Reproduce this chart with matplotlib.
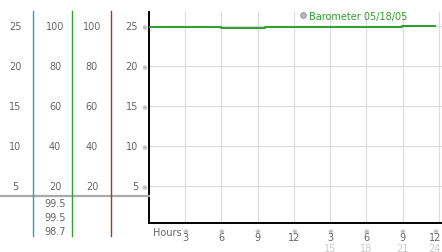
import matplotlib.pyplot as plt
from matplotlib.lines import Line2D
from matplotlib.transforms import blended_transform_factory, offset_copy

# data
hours = [0, 6.0, 9.6, 20.9, 23.7]
barometer = [99.5, 98.9, 99.5, 99.9, 99.9]
scale25 = [25, 20, 15, 10, 5]
scale100 = [100, 80, 60, 40, 20]
summary = ['99.5', '99.5', '98.7']
xticks = [3, 6, 9, 12, 15, 18, 21, 24]
xlabels_top = ['3', '6', '9', '12', '3', '6', '9', '12']
xlabels_bot = ['', '', '', '', '15', '18', '21', '24']
legend_label = 'Barometer 05/18/05'

W, H = 442, 253
fig = plt.figure(figsize=(W / 100, H / 100), dpi=100)
plt.rcParams['font.family'] = 'DejaVu Sans'
txt = '#666666'
fs = 7

ax_rect = [149 / W, 29 / H, 293 / W, 211 / H]
ax = fig.add_axes(ax_rect)
left = fig.add_axes([0, ax_rect[1], 149 / W, ax_rect[3]], sharey=ax)

ylim = (0.4, 26.75)
ax.set_xlim(0, 24.25)
ax.set_ylim(*ylim)

# main chart
ax.plot(hours, [b / 4 for b in barometer], drawstyle='steps-post', color='#2e9e2e', lw=1.4, zorder=3)
ax.set_xticks(xticks)
ax.set_yticks(scale25)
ax.grid(True, color='#dddddd', lw=0.9)
ax.set_axisbelow(True)
for s in ['top', 'right']:
    ax.spines[s].set_visible(False)
ax.spines['left'].set_linewidth(1.4)
ax.spines['bottom'].set_linewidth(1.4)
ax.tick_params(length=0)
ax.set_yticklabels(['\u203b'] * len(scale25), fontsize=5, color='#888888')
ax.tick_params(axis='y', pad=1)
ax.set_xticklabels([])
tr = blended_transform_factory(ax.transData, ax.transAxes)
for x, t, b in zip(xticks, xlabels_top, xlabels_bot):
    # keep the last column inside the figure edge
    ttr = offset_copy(tr, fig=fig, x=-3 if x == xticks[-1] else 0, units='points')
    ax.text(x, -0.022, '\u203b', transform=ttr, ha='center', va='top', fontsize=5, color='#888888')
    ax.text(x, -0.045, t, transform=ttr, ha='center', va='top', fontsize=fs, color=txt)
    ax.text(x, -0.097, b, transform=ttr, ha='center', va='top', fontsize=fs, color='#cccccc')
ax.text(0.015, -0.018, 'Hours', transform=ax.transAxes, ha='left', va='top', fontsize=fs, color=txt)

handle = Line2D([], [], marker='o', ls='none', markersize=4, markerfacecolor='#bbbbbb',
                markeredgecolor='#888888', markeredgewidth=0.6)
ax.legend([handle], [legend_label], loc='upper left', bbox_to_anchor=(0.5, 1.03), frameon=False,
          fontsize=fs, labelcolor='#2e9e2e', handlelength=0.6, handletextpad=0.3, borderpad=0)

# left panel
left.set_xlim(0, 149)
left.axis('off')
for v in scale25:
    left.text(15, v, str(v), ha='center', va='center', fontsize=fs, color=txt)
    left.text(138, v, str(v), ha='right', va='center', fontsize=fs, color=txt)
for v in scale100:
    left.text(55, v / 4, str(v), ha='center', va='center', fontsize=fs, color=txt)
    left.text(92, v / 4, str(v), ha='center', va='center', fontsize=fs, color=txt)
for x, c in [(33, '#3399cc'), (72, '#33a033'), (111, '#b03030')]:
    left.plot([x, x], [26.9, -1.25], color=c, lw=1, clip_on=False)
left.plot([0, 149], [3.75, 3.75], color='#aaaaaa', lw=1.6, clip_on=False, zorder=1)
for i, s in enumerate(summary):
    left.text(55, 2.9 - i * 1.75, s, ha='center', va='center', fontsize=fs, color=txt)

fig.savefig('out.png', dpi=100)
